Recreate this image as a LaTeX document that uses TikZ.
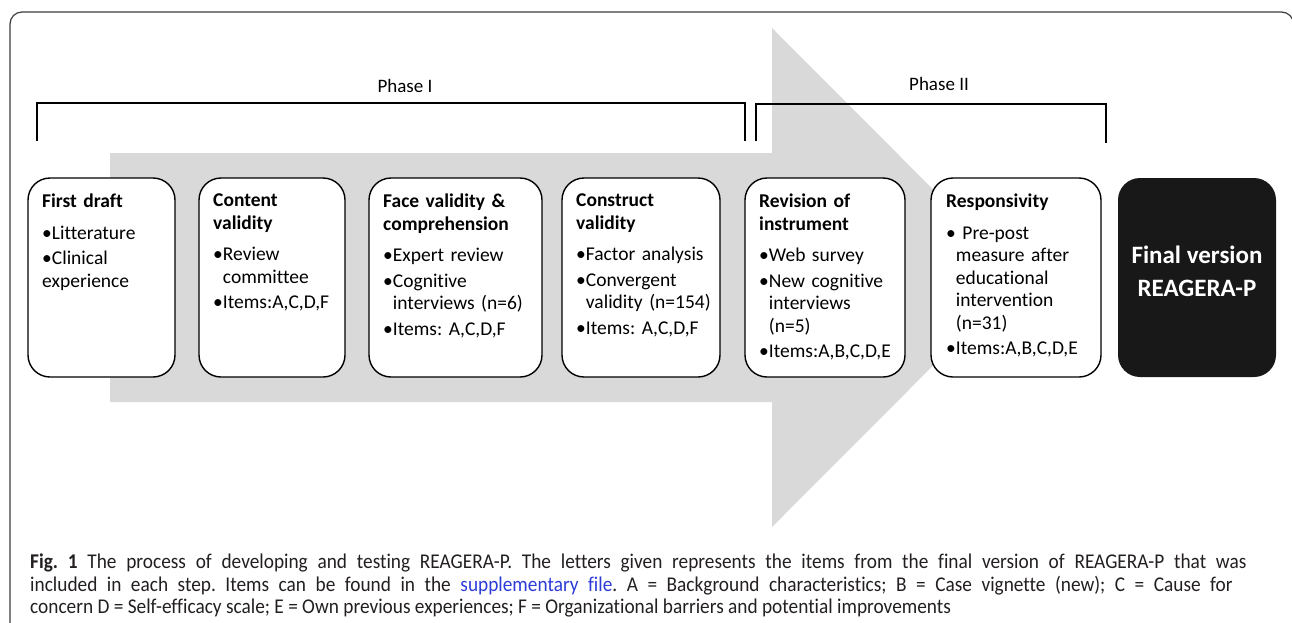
\documentclass[tikz,border=0pt]{standalone}
\usepackage{fontspec}
\setmainfont[Ligatures=NoCommon]{Carlito}
\frenchspacing
\definecolor{arrowgray}{RGB}{217,217,217}
\definecolor{framegray}{RGB}{60,60,60}
\definecolor{boxblack}{RGB}{24,24,24}
\definecolor{linkblue}{RGB}{45,60,215}
\definecolor{captext}{RGB}{35,31,32}
\newlength\bulw
\newcommand\itm[1]{\par\vspace{3pt}\settowidth\bulw{•}\hangindent=\bulw\hangafter=1\noindent•#1}
\newcommand\ttl[1]{\textbf{#1}\par\vspace{6pt}}
\newcommand\capjust[2]{\scalebox{0.92}[1]{\makebox[#1][s]{#2}}}
\newcommand\capnat[1]{\scalebox{0.92}[1]{#1}}
\begin{document}
\begin{tikzpicture}[x=1pt,y=-1pt,
  stepbox/.style={draw=black,line width=1.4pt,rounded corners=22pt,fill=white},
  boxtext/.style={anchor=north west,inner sep=0pt,text width=165pt,align=left,
    font=\fontsize{19.5}{22.5}\selectfont},
  bracket/.style={draw=black,line width=1.3pt},
  phaselabel/.style={inner sep=0pt,font=\fontsize{19}{22}\selectfont},
  capline/.style={anchor=base west,inner sep=0pt,text=captext,
    font=\fontsize{21}{23}\selectfont}]
\useasboundingbox (0,0) rectangle (1292,622);
\clip (0,0) rectangle (1292,622);
% outer frame
\draw[framegray,line width=1.2pt,rounded corners=12pt] (10,640) -- (10,12) -- (1293.5,12) -- (1293.5,640);
% big gray arrow
\fill[arrowgray] (110,153) -- (772,153) -- (772,28) -- (1021,277.5) -- (772,527) -- (772,402) -- (110,402) -- cycle;
% phase brackets
\coordinate (p1a) at (37,141);
\coordinate (p1b) at (745,141);
\coordinate (p2a) at (756,141);
\coordinate (p2b) at (1106,143);
\draw[bracket] (p1a) -- (37,103) -- (745,103) -- (p1b);
\draw[bracket] (p2a) -- (756,104) -- (1106,104) -- (p2b);
\node[phaselabel] (ph1) at (405,86) {Phase I};
\node[phaselabel] (ph2) at (939,84) {Phase II};
% boxes
\path[stepbox] (28,178) rectangle (175,377);
\path[stepbox] (199,178) rectangle (345,377);
\path[stepbox] (369,178) rectangle (542,377);
\path[stepbox] (562,178) rectangle (720,377);
\path[stepbox] (745,178) rectangle (905,377);
\path[stepbox] (931,178) rectangle (1101,377);
\fill[boxblack,rounded corners=22pt] (1118,178) rectangle (1276,377);
\node[boxtext] (tA) at (42,194) {\ttl{First draft}\itm{Litterature}\itm{Clinical\newline experience}};
\node[boxtext] (tB) at (213,194) {\ttl{Content\newline validity}\itm{Review\newline committee}\itm{Items:A,C,D,F}};
\node[boxtext] (tC) at (383,194) {\ttl{Face validity \&\newline comprehension}\itm{Expert review}\itm{Cognitive\newline interviews (n=6)}\itm{Items: A,C,D,F}};
\node[boxtext] (tD) at (576,194) {\ttl{Construct\newline validity}\itm{Factor analysis}\itm{Convergent\newline validity (n=154)}\itm{Items: A,C,D,F}};
\node[boxtext] (tE) at (759,194) {\ttl{Revision of\newline instrument}\itm{Web survey}\itm{New cognitive\newline interviews\newline (n=5)}\itm{Items:A,B,C,D,E}};
\node[boxtext] (tF) at (946,194) {\ttl{Responsivity}\itm{ Pre-post\newline measure after\newline educational\newline intervention\newline (n=31)}\itm{Items:A,B,C,D,E}};
\node[align=center,text=white,inner sep=0pt,font=\bfseries\fontsize{25}{33}\selectfont] (tG) at (1197,271) {Final version\\REAGERA-P};
% caption
\node[capline] (c1) at (30,568) {\capjust{1322pt}{\textbf{Fig. 1} The process of developing and testing REAGERA-P. The letters given represents the items from the final version of REAGERA-P that was}};
\node[capline] (c2) at (30,591) {\capjust{1307pt}{included in each step. Items can be found in the \textcolor{linkblue}{supplementary file}. A = Background characteristics; B = Case vignette (new); C = Cause for}};
\node[capline] (c3) at (30,613.5) {\capnat{concern D = Self-efficacy scale; E = Own previous experiences; F = Organizational barriers and potential improvements}};
\end{tikzpicture}
\end{document}
